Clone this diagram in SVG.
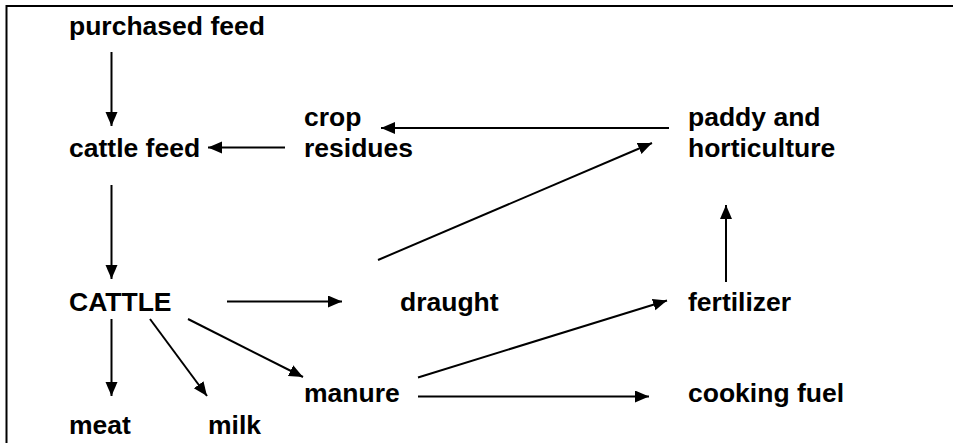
<svg xmlns="http://www.w3.org/2000/svg" width="953" height="443" viewBox="0 0 953 443">
<style>
.t{font-family:"Liberation Sans",Arial,sans-serif;font-weight:bold;font-size:26.5px;fill:#000}
.c line{stroke:#000;stroke-width:2;marker-end:url(#ah)}
</style>
<defs>
<marker id="ah" markerUnits="userSpaceOnUse" markerWidth="15" markerHeight="13" refX="14" refY="6" orient="auto">
<path d="M0,0 L14,6 L0,12 z" fill="#000"/>
</marker>
</defs>
<rect width="953" height="443" fill="#fff"/>
<path d="M6.5,443 V6 H953" fill="none" stroke="#000" stroke-width="2"/>
<g id="purchased_feed"><text class="t" x="69" y="35">purchased feed</text></g>
<g id="cattle_feed"><text class="t" x="69" y="157">cattle feed</text></g>
<g id="crop_residues"><text class="t" x="304" y="126">crop</text><text class="t" x="304" y="157">residues</text></g>
<g id="paddy"><text class="t" x="688" y="126">paddy and</text><text class="t" x="688" y="157">horticulture</text></g>
<g id="cattle"><text class="t" x="69" y="311">CATTLE</text></g>
<g id="draught"><text class="t" x="400" y="311">draught</text></g>
<g id="fertilizer"><text class="t" x="688" y="311">fertilizer</text></g>
<g id="manure"><text class="t" x="304" y="402">manure</text></g>
<g id="cooking_fuel"><text class="t" x="688" y="402">cooking fuel</text></g>
<g id="meat"><text class="t" x="69" y="434">meat</text></g>
<g id="milk"><text class="t" x="208" y="434">milk</text></g>
<g id="connectors" class="c">
<line x1="111.5" y1="52" x2="111.5" y2="126"/>
<line x1="111.5" y1="185" x2="111.5" y2="279"/>
<line x1="285" y1="147.5" x2="208" y2="147.5"/>
<line x1="669" y1="128" x2="381" y2="128"/>
<line x1="378" y1="260" x2="652" y2="143"/>
<line x1="227" y1="301.5" x2="342" y2="301.5"/>
<line x1="726" y1="282" x2="726" y2="205"/>
<line x1="418" y1="377.5" x2="667" y2="300.5"/>
<line x1="418" y1="396.5" x2="649" y2="396.5"/>
<line x1="111.5" y1="319" x2="111.5" y2="396"/>
<line x1="150" y1="319" x2="207" y2="396"/>
<line x1="188" y1="319" x2="303" y2="377"/>
</g>
</svg>
